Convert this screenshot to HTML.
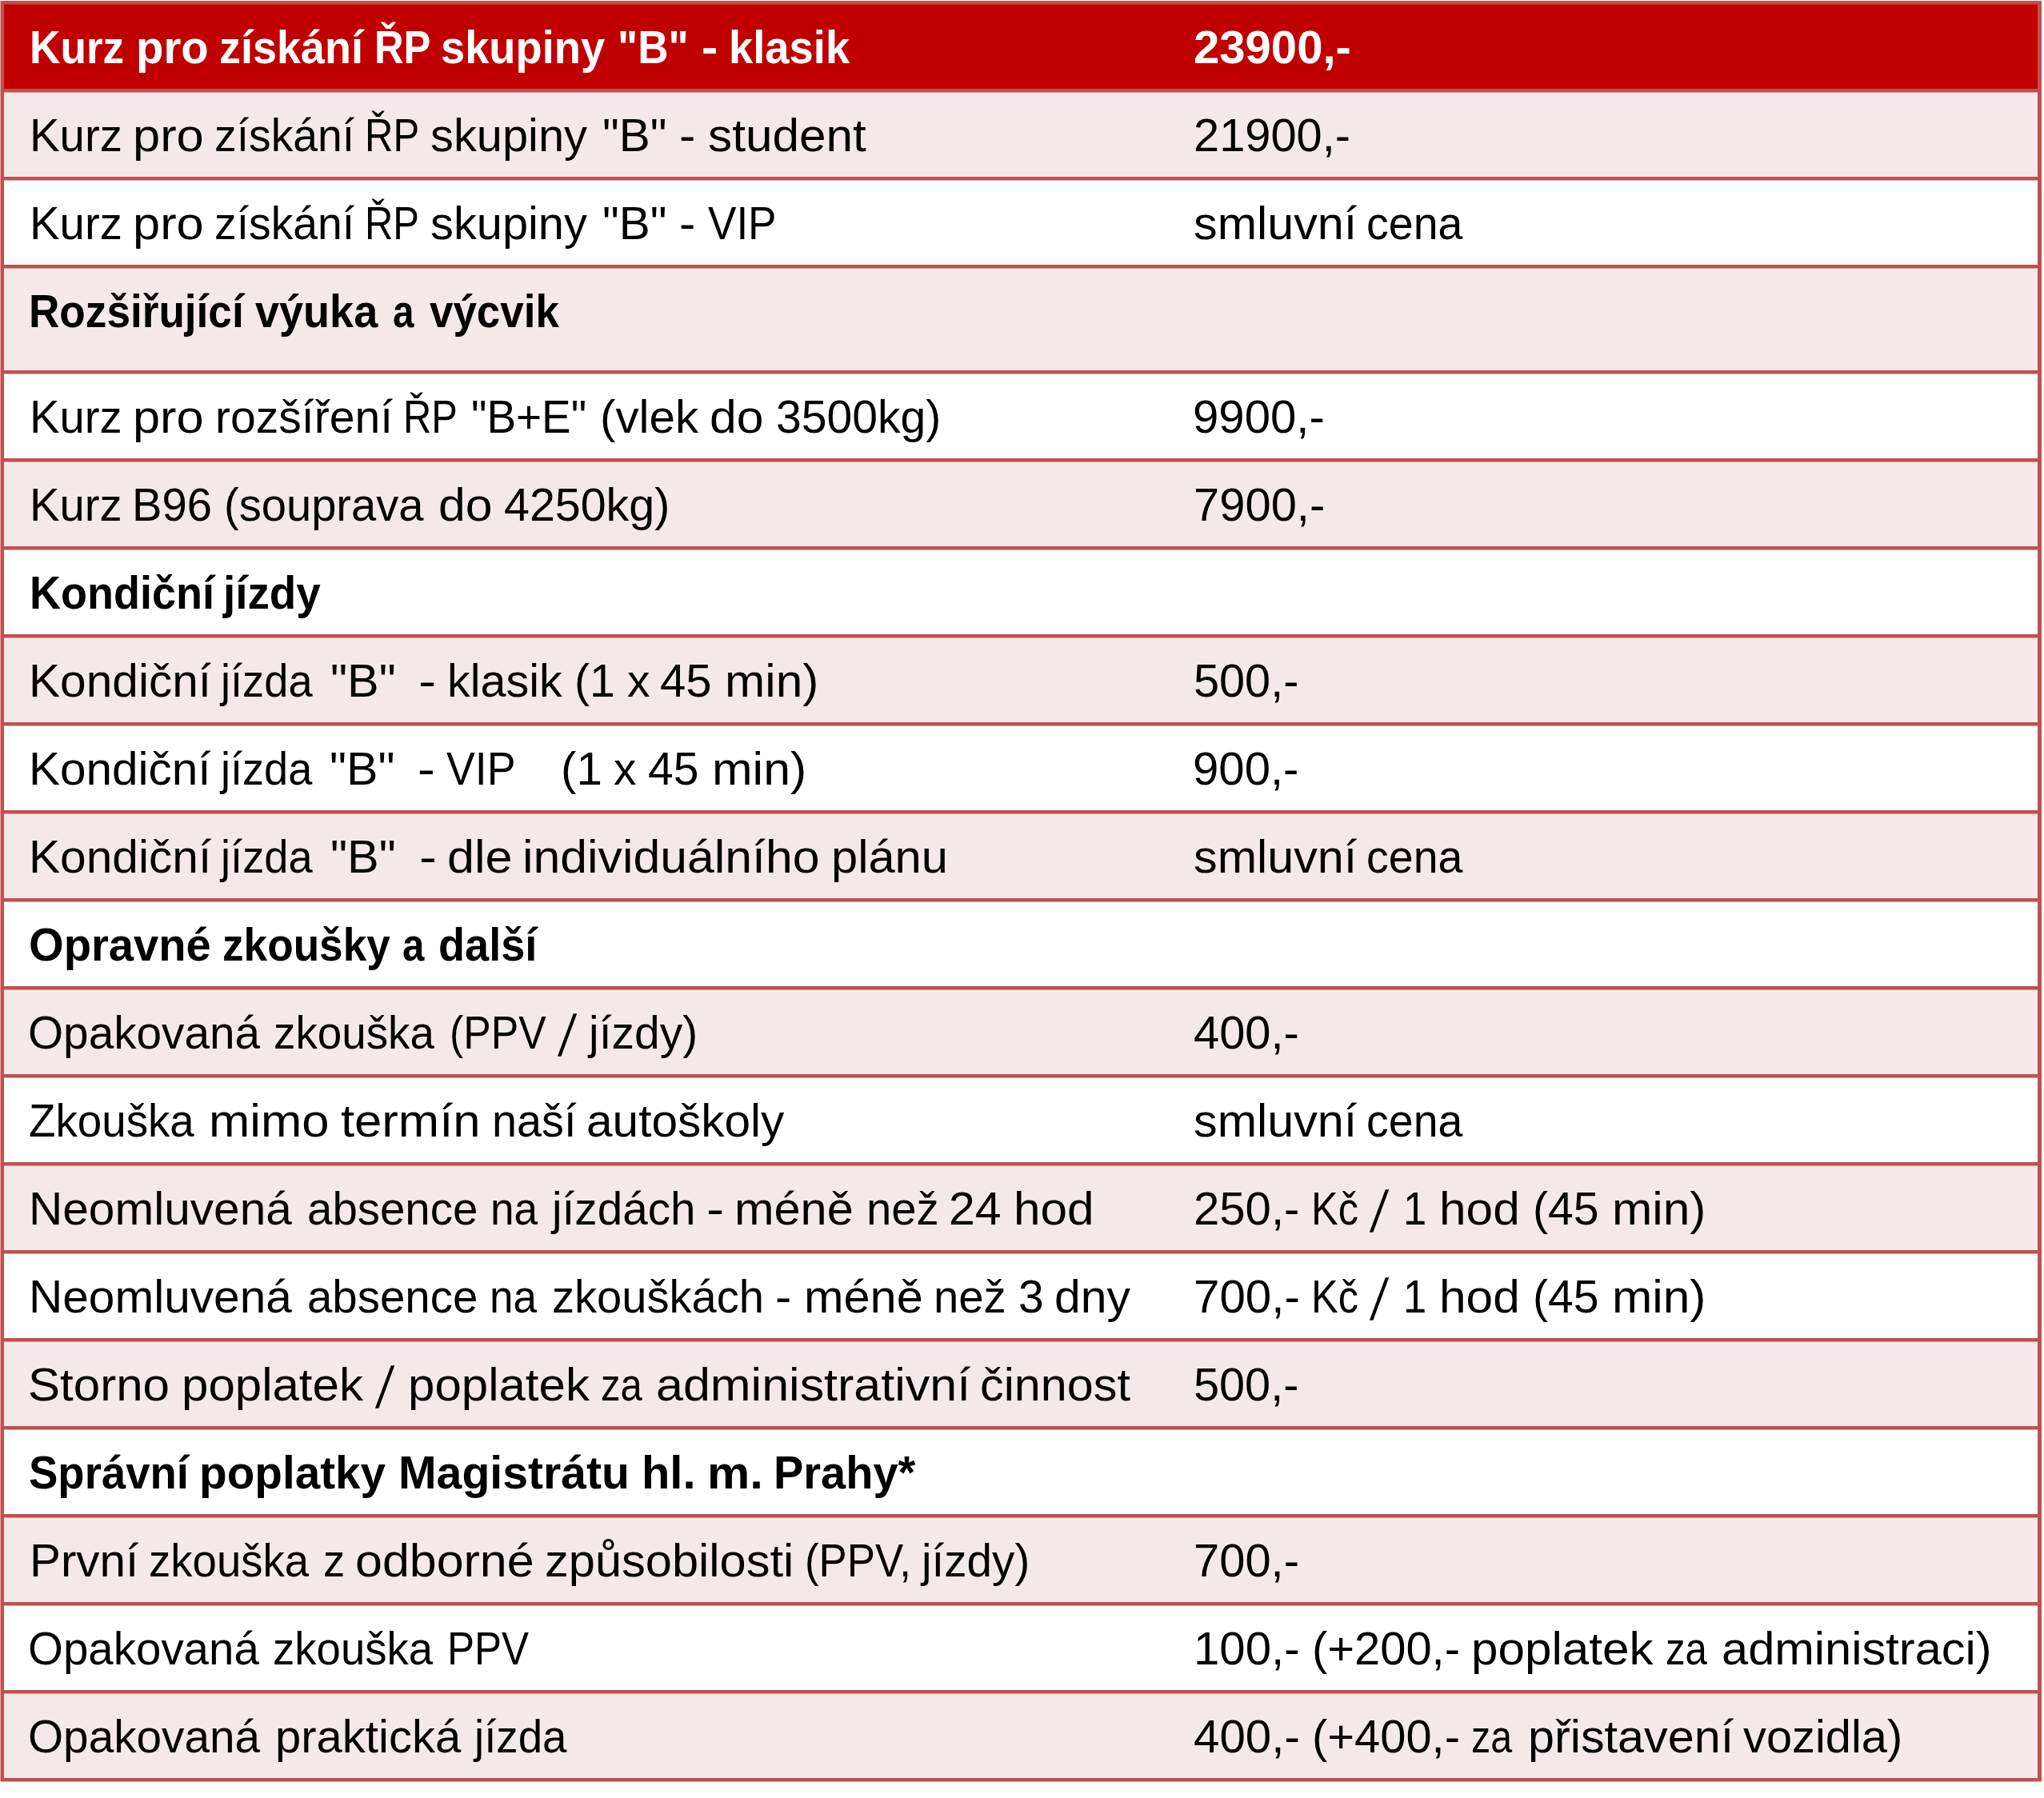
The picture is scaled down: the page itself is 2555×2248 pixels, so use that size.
<!DOCTYPE html>
<html lang="cs"><head><meta charset="utf-8"><title>Ceník autoškoly</title>
<style>
html,body{margin:0;padding:0;background:#fff;}
body{width:2555px;height:2248px;position:relative;overflow:hidden;font-family:"Liberation Sans",sans-serif;color:#000;}
.r{position:absolute;left:1px;width:2551px;background:#fff;}
.p{background:#F4E9E9;}
.h{background:#C00000;color:#fff;font-weight:bold;}
.b{font-weight:bold;}
.c{position:absolute;top:30px;height:57px;white-space:pre;font-size:57px;line-height:1;}
.c0{left:36.5px;}
.c1{left:1489.5px;}
.c span{position:absolute;top:0;left:0;transform-origin:0 0;white-space:pre;}
.l{position:absolute;left:1px;width:2551px;height:4px;background:#C0504D;background-clip:padding-box;border-bottom:1px solid rgba(192,80,77,.5);}
.v{position:absolute;top:1px;height:2226px;width:5px;background:#C0504D;background-clip:padding-box;}
.vl{left:0;width:4px;border-left:1px solid rgba(192,80,77,.5);}
.vr{left:2547px;}
</style></head><body>

<div class="r h" style="top:1px;height:114px">
<div class="c c0"><span style="left:-0.73px;transform:scaleX(0.9332)">Kurz</span> <span style="left:132.45px;transform:scaleX(0.9876)">pro</span> <span style="left:236.15px;transform:scaleX(0.9464)">získání</span> <span style="left:430.21px;transform:scaleX(0.8897)">ŘP</span> <span style="left:513.86px;transform:scaleX(0.9521)">skupiny</span> <span style="left:734.05px;transform:scaleX(0.9311)">&quot;B&quot;</span> <span style="left:839.6px;transform:scaleX(1.0706)">-</span> <span style="left:873.75px;transform:scaleX(0.9538)">klasik</span></div>
<div class="c c1"><span style="left:1.86px;transform:scaleX(1.0185)">23900,-</span></div>
</div>
<div class="r p" style="top:111px;height:114px">
<div class="c c0"><span style="left:-0.95px;transform:scaleX(0.9891)">Kurz</span> <span style="left:128.51px;transform:scaleX(1.0771)">pro</span> <span style="left:230.96px;transform:scaleX(0.9701)">získání</span> <span style="left:418.58px;transform:scaleX(0.8596)">ŘP</span> <span style="left:500.8px;transform:scaleX(1.014)">skupiny</span> <span style="left:715.52px;transform:scaleX(1.0253)">&quot;B&quot;</span> <span style="left:811.56px;transform:scaleX(1.0696)">-</span> <span style="left:847.4px;transform:scaleX(1.058)">student</span></div>
<div class="c c1"><span style="left:1.85px;transform:scaleX(1.0134)">21900,-</span></div>
</div>
<div class="r" style="top:221px;height:114px">
<div class="c c0"><span style="left:-0.95px;transform:scaleX(0.9887)">Kurz</span> <span style="left:128.46px;transform:scaleX(1.0766)">pro</span> <span style="left:230.86px;transform:scaleX(0.9697)">získání</span> <span style="left:418.4px;transform:scaleX(0.8593)">ŘP</span> <span style="left:500.59px;transform:scaleX(1.0135)">skupiny</span> <span style="left:715.22px;transform:scaleX(1.0248)">&quot;B&quot;</span> <span style="left:811.21px;transform:scaleX(1.0691)">-</span> <span style="left:847.17px;transform:scaleX(0.9306)">VIP</span></div>
<div class="c c1"><span style="left:1.63px;transform:scaleX(1.0399)">smluvní</span> <span style="left:217.87px;transform:scaleX(0.9739)">cena</span></div>
</div>
<div class="r p b" style="top:331px;height:136px">
<div class="c c0"><span style="left:-1.14px;transform:scaleX(0.9322)">Rozšiřující</span> <span style="left:281.22px;transform:scaleX(0.9478)">výuka</span> <span style="left:453.41px;transform:scaleX(0.8362)">a</span> <span style="left:499.58px;transform:scaleX(0.9282)">výcvik</span></div>
</div>
<div class="r" style="top:463px;height:114px">
<div class="c c0"><span style="left:-0.95px;transform:scaleX(0.9875)">Kurz</span> <span style="left:128.31px;transform:scaleX(1.0753)">pro</span> <span style="left:231.49px;transform:scaleX(1.0013)">rozšíření</span> <span style="left:466.04px;transform:scaleX(0.8563)">ŘP</span> <span style="left:551.1px;transform:scaleX(0.9623)">&quot;B+E&quot;</span> <span style="left:712.04px;transform:scaleX(1.0224)">(vlek</span> <span style="left:849.72px;transform:scaleX(1.0642)">do</span> <span style="left:932.84px;transform:scaleX(1.0016)">3500kg)</span></div>
<div class="c c1"><span style="left:0.92px;transform:scaleX(1.0194)">9900,-</span></div>
</div>
<div class="r p" style="top:573px;height:114px">
<div class="c c0"><span style="left:-0.95px;transform:scaleX(0.9874)">Kurz</span> <span style="left:127.65px;transform:scaleX(0.9859)">B96</span> <span style="left:242.5px;transform:scaleX(0.9845)">(souprava</span> <span style="left:510.67px;transform:scaleX(1.0641)">do</span> <span style="left:592.78px;transform:scaleX(1.0064)">4250kg)</span></div>
<div class="c c1"><span style="left:1.43px;transform:scaleX(1.0161)">7900,-</span></div>
</div>
<div class="r b" style="top:683px;height:114px">
<div class="c c0"><span style="left:-0.81px;transform:scaleX(0.9476)">Kondiční</span> <span style="left:241.91px;transform:scaleX(0.9616)">jízdy</span></div>
</div>
<div class="r p" style="top:793px;height:114px">
<div class="c c0"><span style="left:-1.14px;transform:scaleX(1.0284)">Kondiční</span> <span style="left:238.74px;transform:scaleX(0.9514)">jízda</span> <span style="left:375.07px;transform:scaleX(1.0412)">&quot;B&quot;</span>  <span style="left:485.96px;transform:scaleX(1.1546)">-</span> <span style="left:521.23px;transform:scaleX(1.0079)">klasik</span> <span style="left:680.73px;transform:scaleX(1.0006)">(1</span> <span style="left:746.3px;transform:scaleX(1.0006)">x</span> <span style="left:787.64px;transform:scaleX(1.0176)">45</span> <span style="left:868.76px;transform:scaleX(1.0583)">min)</span></div>
<div class="c c1"><span style="left:1.95px;transform:scaleX(1.0114)">500,-</span></div>
</div>
<div class="r" style="top:903px;height:114px">
<div class="c c0"><span style="left:-1.14px;transform:scaleX(1.0261)">Kondiční</span> <span style="left:238.2px;transform:scaleX(0.9492)">jízda</span> <span style="left:374.22px;transform:scaleX(1.0388)">&quot;B&quot;</span>  <span style="left:484.86px;transform:scaleX(1.1519)">-</span> <span style="left:520.08px;transform:scaleX(0.9423)">VIP</span>    <span style="left:663.95px;transform:scaleX(1.021)">(1</span> <span style="left:729.47px;transform:scaleX(0.9983)">x</span> <span style="left:772.74px;transform:scaleX(0.9983)">45</span> <span style="left:852.6px;transform:scaleX(1.0662)">min)</span></div>
<div class="c c1"><span style="left:0.92px;transform:scaleX(1.0195)">900,-</span></div>
</div>
<div class="r p" style="top:1013px;height:114px">
<div class="c c0"><span style="left:-1.14px;transform:scaleX(1.029)">Kondiční</span> <span style="left:238.88px;transform:scaleX(0.952)">jízda</span> <span style="left:375.3px;transform:scaleX(1.0418)">&quot;B&quot;</span>  <span style="left:486.26px;transform:scaleX(1.1553)">-</span> <span style="left:521.43px;transform:scaleX(1.0717)">dle</span> <span style="left:615.35px;transform:scaleX(1.0656)">individuálního</span> <span style="left:1001.37px;transform:scaleX(1.0467)">plánu</span></div>
<div class="c c1"><span style="left:1.63px;transform:scaleX(1.0399)">smluvní</span> <span style="left:217.87px;transform:scaleX(0.9739)">cena</span></div>
</div>
<div class="r b" style="top:1123px;height:114px">
<div class="c c0"><span style="left:-1.58px;transform:scaleX(0.9851)">Opravné</span> <span style="left:240.17px;transform:scaleX(0.9328)">zkoušky</span> <span style="left:465.13px;transform:scaleX(0.8629)">a</span> <span style="left:510.32px;transform:scaleX(0.9493)">další</span></div>
</div>
<div class="r p" style="top:1233px;height:114px">
<div class="c c0"><span style="left:-2.58px;transform:scaleX(0.9947)">Opakovaná</span> <span style="left:304.35px;transform:scaleX(0.9607)">zkouška</span> <span style="left:524.43px;transform:scaleX(0.9065)">(PPV</span> <span style="left:659.66px;transform-origin:8.27px 48px;transform:translateY(8.7px) skewX(-8.99deg) scaleY(1.2786)">/</span> <span style="left:698.59px;transform:scaleX(0.9995)">jízdy)</span></div>
<div class="c c1"><span style="left:1.58px;transform:scaleX(1.0143)">400,-</span></div>
</div>
<div class="r" style="top:1343px;height:114px">
<div class="c c0"><span style="left:-1.82px;transform:scaleX(0.96)">Zkouška</span> <span style="left:223.48px;transform:scaleX(1.0804)">mimo</span> <span style="left:388.57px;transform:scaleX(1.0805)">termín</span> <span style="left:577.68px;transform:scaleX(0.9785)">naší</span> <span style="left:695.87px;transform:scaleX(1.0272)">autoškoly</span></div>
<div class="c c1"><span style="left:1.63px;transform:scaleX(1.0399)">smluvní</span> <span style="left:217.87px;transform:scaleX(0.9739)">cena</span></div>
</div>
<div class="r p" style="top:1453px;height:114px">
<div class="c c0"><span style="left:-1.04px;transform:scaleX(1.0275)">Neomluvená</span> <span style="left:346.62px;transform:scaleX(0.9898)">absence</span> <span style="left:575.04px;transform:scaleX(0.9326)">na</span> <span style="left:652.97px;transform:scaleX(0.9936)">jízdách</span> <span style="left:845.81px;transform:scaleX(1.153)">-</span> <span style="left:880.9px;transform:scaleX(1.0433)">méně</span> <span style="left:1045.44px;transform:scaleX(0.9875)">než</span> <span style="left:1148.97px;transform:scaleX(1.0331)">24</span> <span style="left:1229.04px;transform:scaleX(1.0567)">hod</span></div>
<div class="c c1"><span style="left:1.85px;transform:scaleX(1.0192)">250,-</span> <span style="left:148.58px;transform:scaleX(0.8872)">Kč</span> <span style="left:221.9px;transform-origin:8.36px 48px;transform:translateY(8.7px) skewX(-8.99deg) scaleY(1.2786)">/</span> <span style="left:263.74px;transform:scaleX(0.922)">1</span> <span style="left:308.84px;transform:scaleX(1.0591)">hod</span> <span style="left:425.26px;transform:scaleX(1.0022)">(45</span> <span style="left:524.51px;transform:scaleX(1.06)">min)</span></div>
</div>
<div class="r" style="top:1563px;height:114px">
<div class="c c0"><span style="left:-1.04px;transform:scaleX(1.0274)">Neomluvená</span> <span style="left:346.58px;transform:scaleX(0.9897)">absence</span> <span style="left:574.97px;transform:scaleX(0.9325)">na</span> <span style="left:652.94px;transform:scaleX(0.9839)">zkouškách</span> <span style="left:931.64px;transform:scaleX(1.0705)">-</span> <span style="left:967.45px;transform:scaleX(1.0432)">méně</span> <span style="left:1129.95px;transform:scaleX(0.9874)">než</span> <span style="left:1235.56px;transform:scaleX(0.9991)">3</span> <span style="left:1280.98px;transform:scaleX(1.0328)">dny</span></div>
<div class="c c1"><span style="left:1.44px;transform:scaleX(1.0224)">700,-</span> <span style="left:148.58px;transform:scaleX(0.8872)">Kč</span> <span style="left:221.9px;transform-origin:8.36px 48px;transform:translateY(8.7px) skewX(-8.99deg) scaleY(1.2786)">/</span> <span style="left:263.74px;transform:scaleX(0.922)">1</span> <span style="left:308.84px;transform:scaleX(1.0591)">hod</span> <span style="left:425.26px;transform:scaleX(1.0022)">(45</span> <span style="left:524.51px;transform:scaleX(1.06)">min)</span></div>
</div>
<div class="r p" style="top:1673px;height:114px">
<div class="c c0"><span style="left:-2.76px;transform:scaleX(1.0538)">Storno</span> <span style="left:189.82px;transform:scaleX(1.053)">poplatek</span> <span style="left:431.36px;transform-origin:8.34px 48px;transform:translateY(8.7px) skewX(-8.99deg) scaleY(1.2786)">/</span> <span style="left:472.16px;transform:scaleX(1.053)">poplatek</span> <span style="left:713.32px;transform:scaleX(0.8605)">za</span> <span style="left:782.86px;transform:scaleX(1.0698)">administrativní</span> <span style="left:1187.68px;transform:scaleX(1.0404)">činnost</span></div>
<div class="c c1"><span style="left:1.95px;transform:scaleX(1.0114)">500,-</span></div>
</div>
<div class="r b" style="top:1783px;height:114px">
<div class="c c0"><span style="left:-2.01px;transform:scaleX(0.9564)">Správní</span> <span style="left:211.71px;transform:scaleX(0.9946)">poplatky</span> <span style="left:460.63px;transform:scaleX(1.0025)">Magistrátu</span> <span style="left:764.29px;transform:scaleX(1.0158)">hl.</span> <span style="left:846.44px;transform:scaleX(1.0497)">m.</span> <span style="left:929.97px;transform:scaleX(0.9819)">Prahy*</span></div>
</div>
<div class="r p" style="top:1893px;height:114px">
<div class="c c0"><span style="left:-0.12px;transform:scaleX(1.0241)">První</span> <span style="left:148.05px;transform:scaleX(0.957)">zkouška</span> <span style="left:366.11px;transform:scaleX(0.957)">z</span> <span style="left:406.19px;transform:scaleX(1.0691)">odborné</span> <span style="left:643.4px;transform:scaleX(1.0452)">způsobilosti</span> <span style="left:968.68px;transform:scaleX(0.9258)">(PPV,</span> <span style="left:1114.93px;transform:scaleX(0.993)">jízdy)</span></div>
<div class="c c1"><span style="left:1.44px;transform:scaleX(1.0154)">700,-</span></div>
</div>
<div class="r" style="top:2003px;height:114px">
<div class="c c0"><span style="left:-2.58px;transform:scaleX(0.9907)">Opakovaná</span> <span style="left:303.13px;transform:scaleX(0.9569)">zkouška</span> <span style="left:521.47px;transform:scaleX(0.8951)">PPV</span></div>
<div class="c c1"><span style="left:1.94px;transform:scaleX(1.0202)">100,-</span> <span style="left:149.3px;transform:scaleX(1.0152)">(+200,-</span> <span style="left:348.98px;transform:scaleX(1.0559)">poplatek</span> <span style="left:591.83px;transform:scaleX(0.8629)">za</span> <span style="left:661.63px;transform:scaleX(1.045)">administraci)</span></div>
</div>
<div class="r p" style="top:2113px;height:114px">
<div class="c c0"><span style="left:-2.59px;transform:scaleX(0.9951)">Opakovaná</span> <span style="left:306.33px;transform:scaleX(1.0179)">praktická</span> <span style="left:555.27px;transform:scaleX(0.959)">jízda</span></div>
<div class="c c1"><span style="left:1.58px;transform:scaleX(1.0228)">400,-</span> <span style="left:149.27px;transform:scaleX(1.015)">(+400,-</span> <span style="left:348.41px;transform:scaleX(0.8479)">za</span> <span style="left:419.26px;transform:scaleX(1.0408)">přistavení</span> <span style="left:688.32px;transform:scaleX(1.014)">vozidla)</span></div>
</div>
<div class="l" style="top:1px"></div>
<div class="l" style="top:111px"></div>
<div class="l" style="top:221px"></div>
<div class="l" style="top:331px"></div>
<div class="l" style="top:463px"></div>
<div class="l" style="top:573px"></div>
<div class="l" style="top:683px"></div>
<div class="l" style="top:793px"></div>
<div class="l" style="top:903px"></div>
<div class="l" style="top:1013px"></div>
<div class="l" style="top:1123px"></div>
<div class="l" style="top:1233px"></div>
<div class="l" style="top:1343px"></div>
<div class="l" style="top:1453px"></div>
<div class="l" style="top:1563px"></div>
<div class="l" style="top:1673px"></div>
<div class="l" style="top:1783px"></div>
<div class="l" style="top:1893px"></div>
<div class="l" style="top:2003px"></div>
<div class="l" style="top:2113px"></div>
<div class="l" style="top:2223px"></div>
<div class="v vl"></div><div class="v vr"></div>
</body></html>
